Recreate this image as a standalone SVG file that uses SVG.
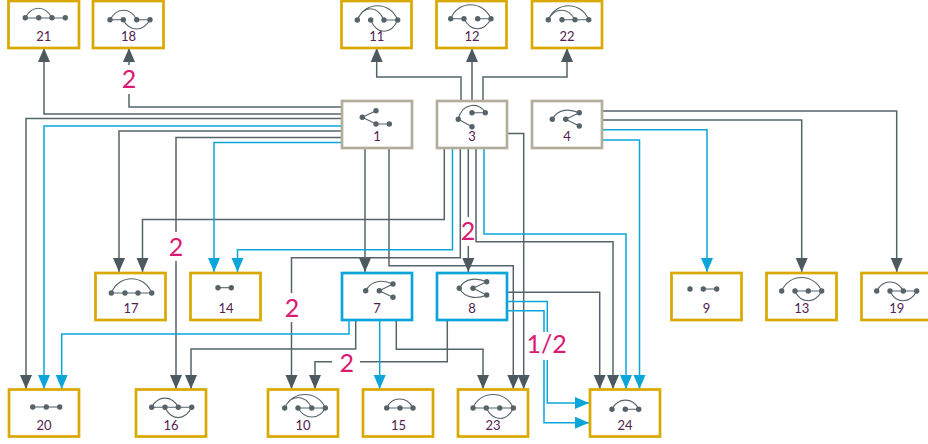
<svg xmlns="http://www.w3.org/2000/svg" width="928" height="444" viewBox="0 0 928 444">
<style>
text{font-family:"Lato","Liberation Sans",sans-serif;text-anchor:middle}
.n{font-size:13px;fill:#52204f}
.l{font-size:25px;fill:#d91b72}
.box{fill:#fff;stroke-width:2.700}
.g{stroke:#d9a900}.t{stroke:#b3ae9c}.b{stroke:#0ba5d9}
.e{fill:none;stroke:#56646a;stroke-width:1.1}
.d{fill:#56646a}
.c{fill:none;stroke-width:1.5}
.cg{stroke:#56646a}.cb{stroke:#0ba5d9}
</style>
<defs>
<marker id="ag" markerUnits="userSpaceOnUse" markerWidth="15" markerHeight="13" refX="14" refY="6" orient="auto"><path d="M0 0L14 6L0 12Z" fill="#4c5a60"/></marker>
<marker id="ab" markerUnits="userSpaceOnUse" markerWidth="15" markerHeight="13" refX="14" refY="6" orient="auto"><path d="M0 0L14 6L0 12Z" fill="#0ba5d9"/></marker>
<circle id="p" r="2.700" class="d"/>
</defs>
<g id="connectors">
<g class="c cg">
<path marker-end="url(#ag)" d="M341 114H44V48"/>
<path d="M341 107H129V94"/><path marker-end="url(#ag)" d="M129 65V48"/>
<path marker-end="url(#ag)" d="M341 118.500H26V389"/>
<path marker-end="url(#ag)" d="M341 131H119V272"/>
<path d="M341 137.500H176V232"/><path marker-end="url(#ag)" d="M176 261V389"/>
<path marker-end="url(#ag)" d="M365 148V272"/>
<path marker-end="url(#ag)" d="M389 148V265.700H513.300V389"/>
<path marker-end="url(#ag)" d="M508 133.500H523.700V389"/>
<path marker-end="url(#ag)" d="M444.300 148V219.500H142.500V272"/>
<path d="M460.300 148V257.700H291.500V293"/><path marker-end="url(#ag)" d="M291.500 322V389"/>
<path d="M468.300 148V217"/><path marker-end="url(#ag)" d="M468.300 246V272"/>
<path marker-end="url(#ag)" d="M476 148V241.700H613V389"/>
<path marker-end="url(#ag)" d="M508 292.300H599.700V389"/>
<path marker-end="url(#ag)" d="M603 111H896.700V272"/>
<path marker-end="url(#ag)" d="M603 120H801.700V272"/>
<path marker-end="url(#ag)" d="M461 100V77H376.700V48"/>
<path marker-end="url(#ag)" d="M472 100V48"/>
<path marker-end="url(#ag)" d="M483 100V77H567V48"/>
<path marker-end="url(#ag)" d="M355.700 320V349H191V389"/>
<path marker-end="url(#ag)" d="M396.300 320V349.300H483V389"/>
<path d="M447.300 320V361.700H360"/><path marker-end="url(#ag)" d="M332 361.700H315V389"/>
</g>
<g class="c cb">
<path marker-end="url(#ab)" d="M341 126H44V389"/>
<path marker-end="url(#ab)" d="M341 142.500H214V272"/>
<path marker-end="url(#ab)" d="M452.500 148V249.700H237.500V272"/>
<path marker-end="url(#ab)" d="M484 148V234H626V389"/>
<path marker-end="url(#ab)" d="M603 129.700H707V272"/>
<path marker-end="url(#ab)" d="M603 140H639.500V389"/>
<path marker-end="url(#ab)" d="M349 320V334H61.700V389"/>
<path marker-end="url(#ab)" d="M379.700 320V389"/>
<path d="M508 301.500H547.300V332"/><path marker-end="url(#ab)" d="M547.300 360V403H589"/>
<path d="M508 310.700H544V332"/><path marker-end="url(#ab)" d="M544 360V422.700H589"/>
</g>
<text class="l" x="129" y="88">2</text>
<text class="l" x="176" y="256">2</text>
<text class="l" x="468" y="240">2</text>
<text class="l" x="292" y="316.500">2</text>
<text class="l" x="346.700" y="372">2</text>
<text class="l" x="546.700" y="352.700">1/2</text>
</g>
<g id="n21"><rect class="box g" x="8.500" y="1" width="70.500" height="47"/><path class="e" d="M25 18H65M25 18C32 5 45 5 52 18"/><use href="#p" x="25.300" y="17.700"/><use href="#p" x="38.700" y="17.700"/><use href="#p" x="52" y="17.700"/><use href="#p" x="65.300" y="17.700"/><text class="n" x="43.700" y="41">21</text></g>
<g id="n18"><rect class="box g" x="93" y="1" width="70.500" height="47"/><path class="e" d="M110 19.700H123M137 19.700H150M110 19.700C117 7 130 7 137 19.700M123 19.700C130 32 143 32 150 19.700"/><use href="#p" x="110" y="19.700"/><use href="#p" x="123.300" y="19.700"/><use href="#p" x="136.700" y="19.700"/><use href="#p" x="150" y="19.700"/><text class="n" x="128.500" y="41">18</text></g>
<g id="n11"><rect class="box g" x="341.500" y="1" width="70" height="47"/><path class="e" d="M384 20H397.700M357.300 20C365 1 390 1 397.700 20M357.300 20C364 5 377 5 384 20M370.700 20C377 35 391 35 397.700 20"/><use href="#p" x="357.300" y="20"/><use href="#p" x="370.700" y="20"/><use href="#p" x="384" y="20"/><use href="#p" x="397.700" y="20"/><text class="n" x="376.700" y="41">11</text></g>
<g id="n12"><rect class="box g" x="436.500" y="1" width="70" height="47"/><path class="e" d="M450.700 18.700H464M477.700 18.700H491M450.700 18.700C458 0 483 0 491 18.700M464 18.700C471 32 484 32 491 18.700"/><use href="#p" x="450.700" y="18.700"/><use href="#p" x="464" y="18.700"/><use href="#p" x="477.700" y="18.700"/><use href="#p" x="491" y="18.700"/><text class="n" x="472" y="41">12</text></g>
<g id="n22"><rect class="box g" x="532" y="1" width="70" height="47"/><path class="e" d="M562 19.700H588.700M548.300 19.700C556 1 581 1 588.700 19.700M548.300 19.700C555 7 568 7 575 19.700"/><use href="#p" x="548.300" y="19.700"/><use href="#p" x="562" y="19.700"/><use href="#p" x="575" y="19.700"/><use href="#p" x="588.700" y="19.700"/><text class="n" x="567" y="41">22</text></g>
<g id="n1"><rect class="box t" x="342" y="101" width="70" height="47"/><path class="e" d="M362.300 117.300L376 110.700M362.300 117.300L376 124H389.300"/><use href="#p" x="362.300" y="117.300"/><use href="#p" x="376" y="110.700"/><use href="#p" x="376" y="124"/><use href="#p" x="389.300" y="124"/><text class="n" x="377" y="141">1</text></g>
<g id="n3"><rect class="box t" x="437" y="101" width="70" height="47"/><path class="e" d="M458.300 119.300L472 126.700M472 112.700H485.300M458.300 119.300C462 102 480 102 485.300 112.700"/><use href="#p" x="458.300" y="119.300"/><use href="#p" x="472" y="126.700"/><use href="#p" x="472" y="112.700"/><use href="#p" x="485.300" y="112.700"/><text class="n" x="472" y="141">3</text></g>
<g id="n4"><rect class="box t" x="532" y="101" width="70" height="47"/><path class="e" d="M565.700 119.300L579.300 112.700M565.700 119.300L579.300 126M552.300 119.300C558 108 570 109 579.300 112.700"/><use href="#p" x="552.300" y="119.300"/><use href="#p" x="565.700" y="119.300"/><use href="#p" x="579.300" y="112.700"/><use href="#p" x="579.300" y="126"/><text class="n" x="567" y="141">4</text></g>
<g id="n17"><rect class="box g" x="95.500" y="273" width="70" height="47"/><path class="e" d="M111.300 293H151.700M111.300 293C119 274 144 274 151.700 293"/><use href="#p" x="111.300" y="293"/><use href="#p" x="125" y="293"/><use href="#p" x="138" y="293"/><use href="#p" x="151.700" y="293"/><text class="n" x="131" y="313">17</text></g>
<g id="n14"><rect class="box g" x="190.500" y="273" width="70" height="47"/><path class="e" d="M218 287.700H231.300"/><use href="#p" x="218" y="287.700"/><use href="#p" x="231.300" y="287.700"/><text class="n" x="226" y="313">14</text></g>
<g id="n7"><rect class="box b" x="342" y="273" width="70" height="47"/><path class="e" d="M379.300 290.700L393 284M379.300 290.700L393 297.300M365.700 290.700C372 279 384 280 393 284"/><use href="#p" x="365.700" y="290.700"/><use href="#p" x="379.300" y="290.700"/><use href="#p" x="393" y="284"/><use href="#p" x="393" y="297.300"/><text class="n" x="377" y="313">7</text></g>
<g id="n8"><rect class="box b" x="437" y="273" width="70" height="47"/><path class="e" d="M473 288.300L486.700 281.700M473 288.300L486.700 295M459.300 288.300C465 277 478 278 486.700 281.700M459.300 288.300C465 299 478 299 486.700 295"/><use href="#p" x="459.300" y="288.300"/><use href="#p" x="473" y="288.300"/><use href="#p" x="486.700" y="281.700"/><use href="#p" x="486.700" y="295"/><text class="n" x="472" y="313">8</text></g>
<g id="n9"><rect class="box g" x="671.500" y="273" width="70" height="47"/><path class="e" d="M703.300 289H716.700"/><use href="#p" x="690" y="289"/><use href="#p" x="703.300" y="289"/><use href="#p" x="716.700" y="289"/><text class="n" x="706.500" y="313">9</text></g>
<g id="n13"><rect class="box g" x="766.500" y="273" width="70" height="47"/><path class="e" d="M795 291H821.700M781.700 291C789 273 814 273 821.700 291M795 291C801 304 815 304 821.700 291"/><use href="#p" x="781.700" y="291"/><use href="#p" x="795" y="291"/><use href="#p" x="808.300" y="291"/><use href="#p" x="821.700" y="291"/><text class="n" x="801.700" y="313">13</text></g>
<g id="n19"><rect class="box g" x="861.500" y="273" width="70" height="47"/><path class="e" d="M890 291H916.700M876.700 291C883 279 897 279 903.300 291M890 291C896 304 910 304 916.700 291"/><use href="#p" x="876.700" y="291"/><use href="#p" x="890" y="291"/><use href="#p" x="903.300" y="291"/><use href="#p" x="916.700" y="291"/><text class="n" x="896.700" y="313">19</text></g>
<g id="n20"><rect class="box g" x="9" y="389.500" width="70" height="47"/><path class="e" d="M32.700 407H59.700"/><use href="#p" x="32.700" y="407"/><use href="#p" x="46.300" y="407"/><use href="#p" x="59.700" y="407"/><text class="n" x="44" y="430">20</text></g>
<g id="n16"><rect class="box g" x="136" y="389.500" width="70" height="47"/><path class="e" d="M151.700 407.300H191.700M151.700 407.300C158 395 172 395 178.300 407.300M165 407.300C171 421 185 421 191.700 407.300"/><use href="#p" x="151.700" y="407.300"/><use href="#p" x="165" y="407.300"/><use href="#p" x="178.300" y="407.300"/><use href="#p" x="191.700" y="407.300"/><text class="n" x="171" y="430">16</text></g>
<g id="n10"><rect class="box g" x="268" y="389.500" width="70" height="47"/><path class="e" d="M298 408H325.300M284.700 408C292 390 318 390 325.300 408M284.700 408C291 394 305 394 311.700 408M298 408C305 420 319 420 325.300 408"/><use href="#p" x="284.700" y="408"/><use href="#p" x="298" y="408"/><use href="#p" x="311.700" y="408"/><use href="#p" x="325.300" y="408"/><text class="n" x="303" y="430">10</text></g>
<g id="n15"><rect class="box g" x="363" y="389.500" width="70" height="47"/><path class="e" d="M386.700 408H413M386.700 408C392 396 407 396 413 408"/><use href="#p" x="386.700" y="408"/><use href="#p" x="400" y="408"/><use href="#p" x="413" y="408"/><text class="n" x="398.500" y="430">15</text></g>
<g id="n23"><rect class="box g" x="458" y="389.500" width="70" height="47"/><path class="e" d="M473 408H513.300M473 408C480 390 506 390 513.300 408M486.300 408C493 422 507 422 513.300 408"/><use href="#p" x="473" y="408"/><use href="#p" x="486.300" y="408"/><use href="#p" x="499.700" y="408"/><use href="#p" x="513.300" y="408"/><text class="n" x="493" y="430">23</text></g>
<g id="n24"><rect class="box g" x="590" y="389.500" width="70" height="47"/><path class="e" d="M625.300 409.300H638.700M612 409.300C618 397 633 397 638.700 409.300"/><use href="#p" x="612" y="409.300"/><use href="#p" x="625.300" y="409.300"/><use href="#p" x="638.700" y="409.300"/><text class="n" x="625" y="430">24</text></g>
</svg>
